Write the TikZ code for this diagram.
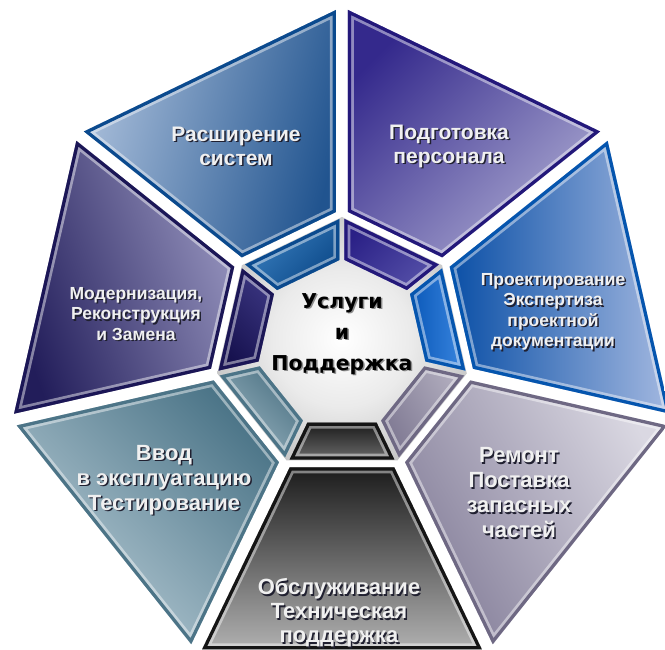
\documentclass[tikz,border=0pt]{standalone}
\usepackage{fontspec}
\setmainfont{Liberation Sans}
\newfontfamily\heavyfont{DejaVu Sans}
\usetikzlibrary{calc}

\pgfdeclareradialshading{centshade}{\pgfpoint{0bp}{0bp}}{color(0bp)=(white); color(14bp)=(white!92!black); color(34bp)=(black!30); color(50bp)=(black!55)}

\definecolor{rasB}{HTML}{0B4A8E}\definecolor{rasL}{HTML}{A9BEDA}\definecolor{rasD}{HTML}{21548F}
\definecolor{rasIL}{HTML}{3B80C0}\definecolor{rasID}{HTML}{0B4888}
\definecolor{modB}{HTML}{1B1656}\definecolor{modL}{HTML}{9694BE}\definecolor{modD}{HTML}{221D5A}
\definecolor{modIL}{HTML}{3A3580}\definecolor{modID}{HTML}{16114E}
\definecolor{vvoB}{HTML}{4C7487}\definecolor{vvoL}{HTML}{B8CCD6}\definecolor{vvoD}{HTML}{4C7588}
\definecolor{vvoIL}{HTML}{9AB4C0}\definecolor{vvoID}{HTML}{4C7284}
\definecolor{obsB}{HTML}{151515}\definecolor{obsL}{HTML}{B0B0B0}\definecolor{obsD}{HTML}{1C1C1C}
\definecolor{obsIL}{HTML}{6A6A6A}\definecolor{obsID}{HTML}{1A1A1A}
\definecolor{remB}{HTML}{6E6883}\definecolor{remL}{HTML}{DAD8E2}\definecolor{remD}{HTML}{857F9A}
\definecolor{remIL}{HTML}{B0ACBD}\definecolor{remID}{HTML}{7E7892}
\definecolor{proB}{HTML}{0555AE}\definecolor{proL}{HTML}{A3B8E0}\definecolor{proD}{HTML}{0A4FA6}
\definecolor{proIL}{HTML}{3A86E0}\definecolor{proID}{HTML}{0A58B8}
\definecolor{podB}{HTML}{23187A}\definecolor{podL}{HTML}{A9A7D0}\definecolor{podD}{HTML}{34298C}
\definecolor{podIL}{HTML}{5550A8}\definecolor{podID}{HTML}{2A2086}
\definecolor{shadowcol}{HTML}{202030}

% #1 k, #2 r in, #3 r out, #4 half gap, #5 name, #6 border, #7 light, #8 dark, #9 shading angle
\newcommand\mkpiece[9]{%
  \pgfmathsetmacro\aA{90+360/7*#1}%
  \pgfmathsetmacro\aB{90+360/7*(#1+1)}%
  \pgfmathsetmacro\aAp{\aA+90}%
  \pgfmathsetmacro\aBm{\aB-90}%
  \coordinate (#5-1) at ($(\aA:#2)+(\aAp:#4)$);
  \coordinate (#5-2) at ($(\aA:#3)+(\aAp:#4)$);
  \coordinate (#5-3) at ($(\aB:#3)+(\aBm:#4)$);
  \coordinate (#5-4) at ($(\aB:#2)+(\aBm:#4)$);
  \begin{scope}
    \clip (#5-1)--(#5-2)--(#5-3)--(#5-4)--cycle;
    \shade[top color=#7, bottom color=#8, shading angle=#9] (#5-1)--(#5-2)--(#5-3)--(#5-4)--cycle;
    \draw[white, opacity=.45, line width=12, line join=miter] (#5-1)--(#5-2)--(#5-3)--(#5-4)--cycle;
    \draw[#6, line width=6.5, line join=miter] (#5-1)--(#5-2)--(#5-3)--(#5-4)--cycle;
  \end{scope}
}

\tikzset{
  lbl/.style={align=center, text=white!94!black, font=\bfseries\fontsize{#1}{#1}\selectfont},
  lblsh/.style={align=center, text=shadowcol, font=\bfseries\fontsize{#1}{#1}\selectfont},
  ctr/.style={align=center, text=black, font=\heavyfont\bfseries\fontsize{20.5}{31}\selectfont},
  ctrsh/.style={align=center, text=black!45, font=\heavyfont\bfseries\fontsize{20.5}{31}\selectfont}
}

\begin{document}
\begin{tikzpicture}[x=1pt,y=1pt]
\useasboundingbox (-342,-305) rectangle (323,345);
\fill[white] (-342,-305) rectangle (323,345);

% central heptagon
\shade[shading=centshade] (90:128) -- (141.4286:128) -- (192.8571:128) -- (244.2857:128) -- (295.7143:128) -- (347.1429:128) -- (38.5714:128) -- cycle;

% outer pieces
\mkpiece{0}{133}{335}{6}{ras}{rasB}{rasL}{rasD}{75}
\mkpiece{1}{133}{335}{6}{mod}{modB}{modL}{modD}{-70}
\mkpiece{2}{133}{335}{6}{vvo}{vvoB}{vvoL}{vvoD}{135}
\mkpiece{3}{133}{335}{6}{obs}{obsB}{obsL}{obsD}{180}
\mkpiece{4}{133}{335}{6}{rem}{remB}{remL}{remD}{-60}
\mkpiece{5}{133}{335}{6}{pro}{proB}{proL}{proD}{-90}
\mkpiece{6}{133}{335}{6}{pod}{podB}{podL}{podD}{-135}

% inner pieces
\mkpiece{0}{85}{126}{2.5}{rasi}{rasB}{rasIL}{rasID}{45}
\mkpiece{1}{85}{126}{2.5}{modi}{modB}{modIL}{modID}{-45}
\mkpiece{2}{85}{126}{2.5}{vvoi}{vvoB}{vvoIL}{vvoID}{135}
\mkpiece{3}{85}{126}{2.5}{obsi}{obsB}{obsIL}{obsID}{180}
\mkpiece{4}{85}{126}{2.5}{remi}{remB}{remIL}{remID}{-60}
\mkpiece{5}{85}{126}{2.5}{proi}{proB}{proIL}{proID}{-90}
\mkpiece{6}{85}{126}{2.5}{podi}{podB}{podIL}{podID}{-135}

% labels (shadow first, then text)
\node[lblsh={21}] (rasS) at (-104.5,197.5) {Расширение\\[3pt]систем};
\node[lbl={21}] (ras) at (-106,199) {Расширение\\[3pt]систем};
\node[lblsh={21}] (podS) at (108.5,197.5) {Подготовка\\[3pt]персонала};
\node[lbl={21}] (pod) at (107,199) {Подготовка\\[3pt]персонала};
\node[lblsh={17.5}] (proS) at (212.5,31.5) {Проектирование\\[3pt]Экспертиза\\[3pt]проектной\\[3pt]документации};
\node[lbl={17.5}] (pro) at (211,33) {Проектирование\\[3pt]Экспертиза\\[3pt]проектной\\[3pt]документации};
\node[lblsh={17.5}] (modS) at (-204.5,29.5) {Модернизация,\\[3pt]Реконструкция\\[3pt]и Замена};
\node[lbl={17.5}] (mod) at (-206,31) {Модернизация,\\[3pt]Реконструкция\\[3pt]и Замена};
\node[lblsh={22}] (remS) at (178.5,-149.5) {Ремонт\\[3pt]Поставка\\[3pt]запасных\\[3pt]частей};
\node[lbl={22}] (rem) at (177,-148) {Ремонт\\[3pt]Поставка\\[3pt]запасных\\[3pt]частей};
\node[lblsh={22}] (vvoS) at (-176.5,-136.5) {Ввод\\[3pt]в эксплуатацию\\[3pt]Тестирование};
\node[lbl={22}] (vvo) at (-178,-135) {Ввод\\[3pt]в эксплуатацию\\[3pt]Тестирование};
\node[lblsh={22}] (obsS) at (-1.5,-269.5) {Обслуживание\\[2pt]Техническая\\[2pt]поддержка};
\node[lbl={22}] (obs) at (-3,-268) {Обслуживание\\[2pt]Техническая\\[2pt]поддержка};

\node[ctrsh] (cenS) at (1.5,9.5) {Услуги\\и\\Поддержка};
\node[ctr] (cen) at (0,11) {Услуги\\и\\Поддержка};
\end{tikzpicture}
\end{document}
